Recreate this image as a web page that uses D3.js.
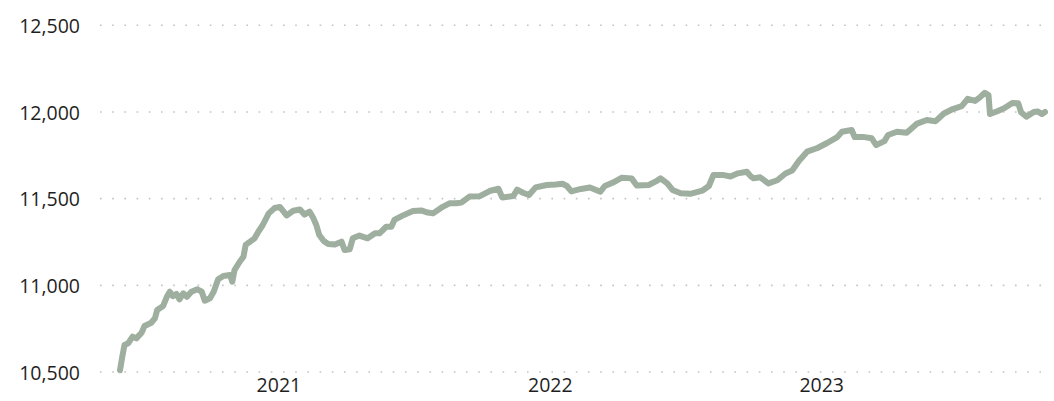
<!DOCTYPE html>
<html>
<head>
<meta charset="utf-8">
<script src="https://cdn.jsdelivr.net/npm/d3@7"></script>
<style>
  body { margin: 0; background: #fff; }
  svg text { font-family: "Open Sans", "Noto Sans", sans-serif; font-size: 19.5px; fill: #1f1f1f; }
</style>
</head>
<body>
<div id="chart"></div>
<script>
const width = 1054,
  height = 401;

const dates = [
  "2020-06-02", "2020-06-05", "2020-06-08", "2020-06-13", "2020-06-19", "2020-06-24", "2020-07-01", "2020-07-05",
  "2020-07-14", "2020-07-19", "2020-07-22", "2020-07-30", "2020-08-04", "2020-08-08", "2020-08-12", "2020-08-17",
  "2020-08-21", "2020-08-26", "2020-08-31", "2020-09-06", "2020-09-14", "2020-09-20", "2020-09-24", "2020-10-01",
  "2020-10-06", "2020-10-12", "2020-10-19", "2020-10-28", "2020-10-31", "2020-11-03", "2020-11-10", "2020-11-15",
  "2020-11-18", "2020-11-24", "2020-11-30", "2020-12-05", "2020-12-11", "2020-12-19", "2020-12-27", "2021-01-03",
  "2021-01-12", "2021-01-21", "2021-01-30", "2021-02-05", "2021-02-12", "2021-02-17", "2021-02-21", "2021-02-25",
  "2021-03-03", "2021-03-09", "2021-03-18", "2021-03-27", "2021-03-31", "2021-04-07", "2021-04-11", "2021-04-20",
  "2021-05-01", "2021-05-11", "2021-05-17", "2021-05-23", "2021-05-26", "2021-06-02", "2021-06-06", "2021-06-17",
  "2021-07-01", "2021-07-12", "2021-07-21", "2021-07-28", "2021-08-10", "2021-08-19", "2021-08-28", "2021-09-04",
  "2021-09-15", "2021-09-29", "2021-10-12", "2021-10-24", "2021-10-29", "2021-11-13", "2021-11-18", "2021-11-26",
  "2021-12-04", "2021-12-13", "2021-12-28", "2022-01-09", "2022-01-18", "2022-01-24", "2022-01-30", "2022-02-12",
  "2022-02-24", "2022-03-10", "2022-03-16", "2022-03-27", "2022-04-08", "2022-04-21", "2022-04-28", "2022-05-14",
  "2022-05-23", "2022-05-30", "2022-06-08", "2022-06-15", "2022-06-26", "2022-07-09", "2022-07-25", "2022-08-03",
  "2022-08-09", "2022-08-23", "2022-09-01", "2022-09-11", "2022-09-23", "2022-09-28", "2022-10-02", "2022-10-11",
  "2022-10-22", "2022-11-03", "2022-11-14", "2022-11-23", "2022-12-02", "2022-12-13", "2022-12-27", "2023-01-09",
  "2023-01-22", "2023-01-29", "2023-02-11", "2023-02-15", "2023-02-28", "2023-03-10", "2023-03-16", "2023-03-27",
  "2023-04-01", "2023-04-13", "2023-04-26", "2023-05-10", "2023-05-23", "2023-06-04", "2023-06-15", "2023-06-27",
  "2023-07-09", "2023-07-17", "2023-07-27", "2023-08-02", "2023-08-09", "2023-08-14", "2023-08-16", "2023-08-25",
  "2023-09-04", "2023-09-15", "2023-09-23", "2023-09-27", "2023-10-04", "2023-10-14", "2023-10-19", "2023-10-25",
  "2023-10-29"
];

const values = [
  10510, 10587, 10656, 10666, 10704, 10694, 10727, 10765,
  10784, 10810, 10858, 10881, 10934, 10963, 10938, 10950,
  10919, 10954, 10934, 10963, 10977, 10963, 10911, 10925,
  10963, 11035, 11054, 11059, 11021, 11088, 11136, 11165,
  11233, 11252, 11271, 11309, 11348, 11415, 11446, 11452,
  11403, 11430, 11437, 11408, 11425, 11388, 11348, 11290,
  11256, 11238, 11235, 11252, 11204, 11208, 11271, 11287,
  11271, 11300, 11300, 11325, 11338, 11338, 11377, 11402,
  11429, 11432, 11420, 11415, 11453, 11473, 11473, 11477,
  11512, 11514, 11544, 11557, 11507, 11515, 11552, 11534,
  11521, 11565, 11579, 11582, 11586, 11573, 11542, 11556,
  11564, 11540, 11573, 11593, 11621, 11617, 11576, 11579,
  11598, 11617, 11588, 11550, 11531, 11528, 11546, 11573,
  11636, 11636, 11628, 11646, 11655, 11630, 11617, 11623,
  11588, 11606, 11645, 11662, 11717, 11771, 11792, 11821,
  11853, 11886, 11896, 11855, 11855, 11848, 11809, 11832,
  11867, 11886, 11880, 11933, 11954, 11947, 11991, 12017,
  12034, 12076, 12064, 12083, 12111, 12098, 11988, 12003,
  12021, 12052, 12050, 11997, 11973, 12000, 12003, 11988,
  12000
];

const yTicks = [10500, 11000, 11500, 12000, 12500];
const yearTicks = ["2021-01-01", "2022-01-01", "2023-01-01"];

const parse = d3.utcParse("%Y-%m-%d");
const data = dates.map((d, i) => ({ date: parse(d), value: values[i] }));

const svg = d3.select("#chart")
  .append("svg")
  .attr("width", width)
  .attr("height", height);

const x = d3.scaleUtc()
  .domain(d3.extent(data, d => d.date))
  .range([120, 1045]);

const y = d3.scaleLinear()
  .domain([10500, 12500])
  .range([372, 25.3]);

// dotted gridlines
svg.selectAll(".grid")
  .data(yTicks)
  .join("line")
  .attr("class", "grid")
  .attr("x1", 100)
  .attr("x2", 1050)
  .attr("y1", d => y(d))
  .attr("y2", d => y(d))
  .attr("stroke", "#c4c4c4")
  .attr("stroke-width", 1.6)
  .attr("stroke-dasharray", "1.6,10.6");

const yAxis = svg.append("g")
  .attr("transform", "translate(80,0)")
  .call(d3.axisLeft(y).tickValues(yTicks).tickSize(0).tickPadding(0).tickFormat(d3.format(",")));
yAxis.select(".domain").remove();
yAxis.selectAll("text").attr("dy", "0.36em");

const xAxis = svg.append("g")
  .attr("transform", "translate(0,378)")
  .call(d3.axisBottom(x).tickValues(yearTicks.map(parse)).tickSize(0).tickPadding(0).tickFormat(d3.utcFormat("%Y")));
xAxis.select(".domain").remove();
xAxis.selectAll("text").attr("dy", "0.71em");

const line = d3.line()
  .x(d => x(d.date))
  .y(d => y(d.value));

svg.append("path")
  .datum(data)
  .attr("fill", "none")
  .attr("stroke", "#9eae9f")
  .attr("stroke-width", 6)
  .attr("stroke-linejoin", "round")
  .attr("stroke-linecap", "round")
  .attr("d", line);
</script>
</body>
</html>
